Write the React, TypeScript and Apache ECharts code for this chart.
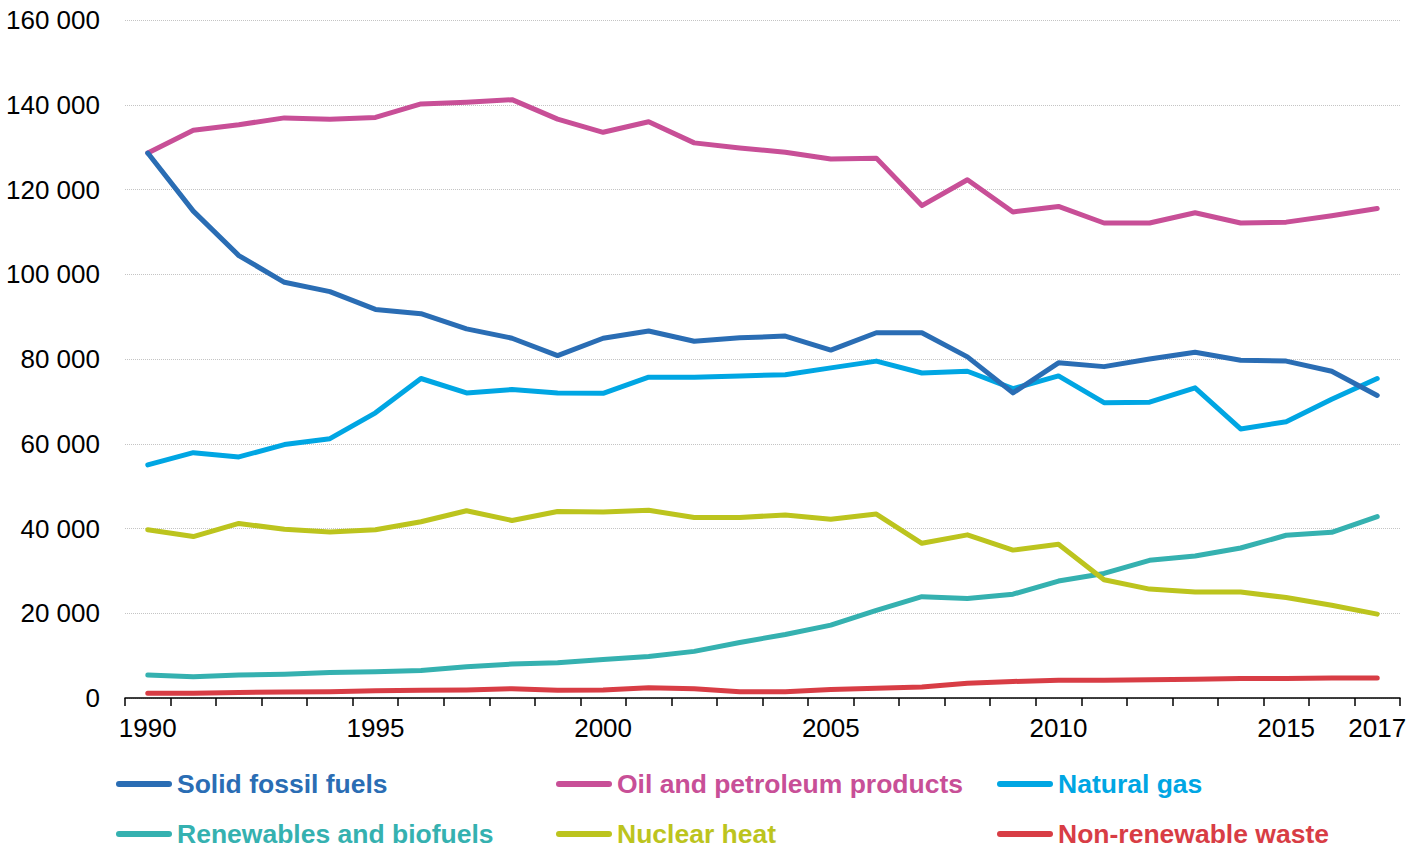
import React, { useEffect, useRef } from "react";
import * as echarts from "echarts";

const years = [
  "1990", "1991", "1992", "1993", "1994", "1995", "1996", "1997", "1998", "1999",
  "2000", "2001", "2002", "2003", "2004", "2005", "2006", "2007", "2008", "2009",
  "2010", "2011", "2012", "2013", "2014", "2015", "2016", "2017",
];

const solidFossil = [
  128600, 114900, 104400, 98100, 95900, 91700, 90700, 87100, 84900, 80800,
  84900, 86600, 84200, 85000, 85400, 82100, 86200, 86200, 80500, 72000,
  79100, 78200, 80000, 81600, 79700, 79500, 77100, 71400,
];
const oilPetroleum = [
  128600, 134000, 135300, 136900, 136600, 137000, 140200, 140600, 141200, 136600,
  133500, 136000, 131000, 129800, 128800, 127200, 127400, 116200, 122300, 114700,
  116000, 112100, 112100, 114500, 112100, 112300, 113800, 115500,
];
const naturalGas = [
  55000, 57900, 56900, 59800, 61200, 67300, 75400, 72000, 72800, 72000,
  71900, 75700, 75700, 76000, 76300, 77900, 79500, 76700, 77100, 73000,
  76000, 69700, 69800, 73200, 63500, 65200, 70500, 75400,
];
const renewables = [
  5400, 5000, 5400, 5600, 6000, 6200, 6500, 7400, 8000, 8300,
  9100, 9800, 11000, 13100, 15000, 17200, 20700, 23900, 23500, 24500,
  27600, 29400, 32500, 33500, 35400, 38400, 39100, 42800,
];
const nuclear = [
  39700, 38100, 41200, 39800, 39200, 39700, 41600, 44200, 41900, 44000,
  43900, 44300, 42600, 42600, 43200, 42200, 43400, 36500, 38500, 34900,
  36300, 27900, 25700, 25000, 25000, 23700, 21900, 19800,
];
const waste = [
  1100, 1100, 1300, 1400, 1500, 1700, 1800, 1900, 2200, 1800,
  1900, 2400, 2200, 1450, 1450, 2000, 2300, 2600, 3500, 3900,
  4200, 4200, 4300, 4400, 4600, 4600, 4700, 4700,
];

const seriesNames = [
  "Solid fossil fuels",
  "Oil and petroleum products",
  "Natural gas",
  "Renewables and biofuels",
  "Nuclear heat",
  "Non-renewable waste",
];
const seriesData = [solidFossil, oilPetroleum, naturalGas, renewables, nuclear, waste];
const seriesColors = ["#2a6db4", "#c84f97", "#00a6e3", "#35b1b0", "#bcc41e", "#d83d45"];

const yMin = 0;
const yMax = 160000;
const yInterval = 20000;

const FONT = "'Liberation Sans', Arial, sans-serif";
const LEGEND_ICON = "path://M3,0 L53,0 A3,3 0 0 1 53,6 L3,6 A3,3 0 0 1 3,0 Z";

export default function App() {
  const ref = useRef<HTMLDivElement>(null);

  useEffect(() => {
    if (!ref.current) return;
    const chart = echarts.init(ref.current, null, { renderer: "svg" });

    const legendLefts = [116, 556, 997];
    const legendTops = [769, 819];
    const legends = seriesNames.map((name, i) => ({
      show: true,
      left: legendLefts[i % 3],
      top: legendTops[Math.floor(i / 3)],
      padding: 0,
      itemWidth: 56,
      itemHeight: 6,
      icon: LEGEND_ICON,
      data: [{ name, icon: LEGEND_ICON, itemStyle: { color: seriesColors[i] } }],
      textStyle: {
        color: seriesColors[i],
        fontFamily: FONT,
        fontSize: 26.5,
        fontWeight: "bold",
        lineHeight: 30,
      },
    }));

    chart.setOption({
      animation: false,
      backgroundColor: "#ffffff",
      grid: { left: 125, right: 22, top: 20, bottom: 150, containLabel: false },
      legend: legends,
      xAxis: {
        type: "category",
        data: years,
        boundaryGap: true,
        axisLine: { show: true, lineStyle: { color: "#000000", width: 1.5 } },
        axisTick: { show: true, interval: 0, length: 8, lineStyle: { color: "#000000", width: 1.5 } },
        axisLabel: {
          interval: (idx: number) => idx % 5 === 0 || idx === years.length - 1,
          color: "#000000",
          fontFamily: FONT,
          fontSize: 26,
          margin: 17,
        },
        splitLine: { show: false },
      },
      yAxis: {
        type: "value",
        min: yMin,
        max: yMax,
        interval: yInterval,
        axisLine: { show: false },
        axisTick: { show: false },
        axisLabel: {
          color: "#000000",
          fontFamily: FONT,
          fontSize: 26,
          margin: 25,
          formatter: (v: number) => String(v).replace(/\B(?=(\d{3})+(?!\d))/g, " "),
        },
        splitLine: { show: true, lineStyle: { color: "#c4c4c4", type: "dotted", width: 1 } },
      },
      series: seriesNames.map((name, i) => ({
        name,
        type: "line",
        data: seriesData[i],
        symbol: "none",
        smooth: false,
        z: i === 0 ? 3 : 2,
        lineStyle: { color: seriesColors[i], width: 5, cap: "round", join: "round" },
        itemStyle: { color: seriesColors[i] },
      })),
    });

    return () => chart.dispose();
  }, []);

  return (
    <div
      ref={ref}
      style={{ position: "absolute", left: 0, top: 0, width: 1422, height: 848 }}
    />
  );
}
